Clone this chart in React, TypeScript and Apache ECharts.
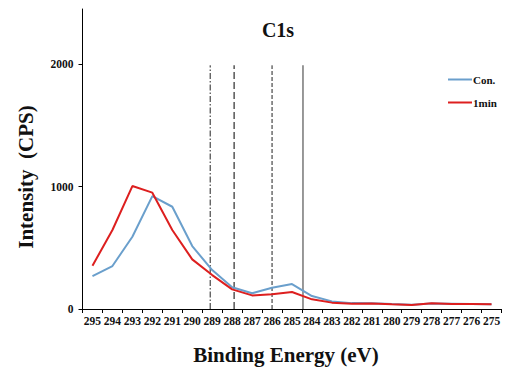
import React, { useEffect, useRef } from "react";
import * as echarts from "echarts";

const energies = ["295","294","293","292","291","290","289","288","287","286","285","284","283","282","281","280","279","278","277","276","275"];
const conValues = [269, 351, 590, 922, 835, 514, 318, 177, 128, 174, 204, 106, 62, 48, 46, 40, 35, 44, 42, 40, 38];
const oneMinValues = [353, 645, 1004, 950, 645, 405, 277, 160, 111, 120, 139, 79, 52, 42, 44, 38, 33, 46, 40, 40, 38];
const yTicks = [0, 1000, 2000];
const markerEnergies = [289.1, 287.9, 286.0, 284.45];
const markerTop = 1990;
const markerStyles: any[] = [
  { color: "#222", width: 1, type: [6, 2, 1.5, 2] },
  { color: "#555", width: 1.5, type: [7, 3] },
  { color: "#222", width: 1, type: [4, 2] },
  { color: "#777", width: 1.5, type: "solid" },
];

const FONT = "'Liberation Serif', 'Times New Roman', serif";

export default function App() {
  const ref = useRef<HTMLDivElement>(null);
  useEffect(() => {
    if (!ref.current) return;
    const chart = echarts.init(ref.current, null, { renderer: "svg" });
    const markerSeries = markerEnergies.map((e, i) => ({
      type: "line",
      xAxisIndex: 1,
      yAxisIndex: 0,
      data: [[e, 0], [e, markerTop]],
      symbol: "none",
      silent: true,
      lineStyle: markerStyles[i],
      z: 1,
    }));
    chart.setOption({
      animation: false,
      backgroundColor: "#fff",
      grid: { left: 82.5, right: 5.5, top: 9, bottom: 60, containLabel: false },
      legend: {
        orient: "vertical",
        left: 448,
        top: 73,
        icon: "rect",
        itemWidth: 24,
        itemHeight: 2,
        itemGap: 10,
        padding: 0,
        data: ["Con.", "1min"],
        textStyle: { fontFamily: FONT, fontWeight: "bold", fontSize: 11, color: "#111", padding: [0, 0, 0, -4], lineHeight: 13 },
      },
      xAxis: [
        {
          type: "category",
          data: energies,
          boundaryGap: true,
          axisLine: { lineStyle: { color: "#000", width: 1 } },
          axisTick: { show: true, length: 4, inside: false, lineStyle: { color: "#000" } },
          axisLabel: { interval: 0, fontFamily: FONT, fontWeight: "bold", fontSize: 11.5, color: "#111", margin: 6 },
          splitLine: { show: false },
        },
        {
          type: "value",
          min: 274.5,
          max: 295.5,
          inverse: true,
          show: false,
          splitLine: { show: false },
        },
      ],
      yAxis: {
        type: "value",
        min: 0,
        max: 2450,
        axisLine: { show: true, lineStyle: { color: "#000", width: 1 } },
        axisTick: { show: true, length: 4, customValues: yTicks, lineStyle: { color: "#000" } },
        axisLabel: {
          customValues: yTicks,
          formatter: (v: number) => String(v),
          fontFamily: FONT, fontWeight: "bold", fontSize: 11.5, color: "#111", margin: 9,
        },
        splitLine: { show: false },
      },
      graphic: [
        {
          type: "text",
          x: 278,
          y: 30,
          style: { text: "C1s", align: "center", verticalAlign: "middle", font: `bold 20px ${FONT}`, fill: "#111" },
        },
        {
          type: "text",
          x: 26,
          y: 177,
          rotation: Math.PI / 2,
          style: { text: "Intensity  (CPS)", align: "center", verticalAlign: "middle", font: `bold 21px ${FONT}`, fill: "#111" },
        },
        {
          type: "text",
          x: 286,
          y: 355,
          style: { text: "Binding Energy (eV)", align: "center", verticalAlign: "middle", font: `bold 21px ${FONT}`, fill: "#111" },
        },
      ],
      series: [
        {
          name: "Con.",
          type: "line",
          data: conValues,
          symbol: "none",
          lineStyle: { color: "#6a9fcc", width: 2 },
          itemStyle: { color: "#6a9fcc" },
          z: 3,
        },
        {
          name: "1min",
          type: "line",
          data: oneMinValues,
          symbol: "none",
          lineStyle: { color: "#dd1f1f", width: 2 },
          itemStyle: { color: "#dd1f1f" },
          z: 4,
        },
        ...markerSeries,
      ],
    });
    return () => chart.dispose();
  }, []);
  return <div ref={ref} style={{ width: 507, height: 369, position: "absolute", left: 0, top: 0 }} />;
}
